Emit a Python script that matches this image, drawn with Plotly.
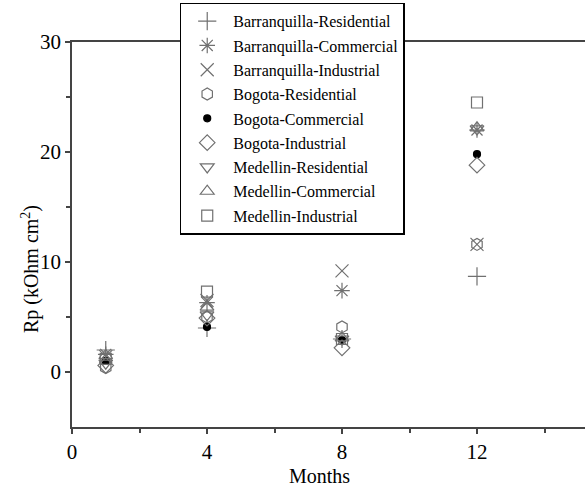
import plotly.graph_objects as go

months = [1, 4, 8, 12]

series_names = [
    "Barranquilla-Residential",
    "Barranquilla-Commercial",
    "Barranquilla-Industrial",
    "Bogota-Residential",
    "Bogota-Commercial",
    "Bogota-Industrial",
    "Medellin-Residential",
    "Medellin-Commercial",
    "Medellin-Industrial",
]

# Polarization resistance Rp (kOhm cm^2) per month
barranquilla_residential = [2.0, 4.0, 3.0, 8.7]
barranquilla_commercial = [1.6, 6.3, 7.4, 22.0]
barranquilla_industrial = [1.4, 6.5, 9.2, 11.6]
bogota_residential = [0.4, 5.0, 4.1, 11.6]
bogota_commercial = [1.0, 4.1, 2.9, 19.8]
bogota_industrial = [0.6, 4.9, 2.2, 18.8]
medellin_residential = [0.8, 5.2, 3.0, 22.1]
medellin_commercial = [1.5, 5.9, 3.1, 22.2]
medellin_industrial = [1.2, 7.3, 3.0, 24.5]

series_values = [
    barranquilla_residential,
    barranquilla_commercial,
    barranquilla_industrial,
    bogota_residential,
    bogota_commercial,
    bogota_industrial,
    medellin_residential,
    medellin_commercial,
    medellin_industrial,
]

symbols = [
    "cross-thin-open",
    "asterisk-open",
    "x-thin-open",
    "hexagon-open",
    "circle",
    "diamond-open",
    "triangle-down-open",
    "triangle-up-open",
    "square-open",
]
sizes = [13, 13, 13, 12, 7, 12, 12, 12, 11]
gray = "#707070"

fig = go.Figure()
for i, (name, vals, sym, sz) in enumerate(zip(series_names, series_values, symbols, sizes)):
    col = "black" if sym == "circle" else gray
    fig.add_trace(go.Scatter(
        x=months, y=vals, mode="markers", name=name,
        legendgroup=f"g{i}",
        marker=dict(symbol=sym, size=sz, color=col,
                    line=dict(color=col, width=1.2)),
    ))

tick_font = dict(family="Liberation Serif", size=21, color="black")
title_font = dict(family="Liberation Serif", size=20, color="black")
fig.update_layout(
    width=585, height=488,
    margin=dict(l=72, r=0, t=42, b=61),
    paper_bgcolor="white", plot_bgcolor="white",
    font=dict(family="Liberation Serif", color="black"),
    showlegend=True,
    legend=dict(
        x=0.21, y=1.102, xanchor="left", yanchor="top",
        bgcolor="white", bordercolor="black", borderwidth=1.5,
        font=dict(family="Liberation Serif", size=16, color="black"),
        traceorder="grouped", tracegroupgap=0.5,
        itemwidth=42, maxheight=460,
    ),
    xaxis=dict(
        range=[0, 15.2], tickvals=[0, 4, 8, 12], ticks="outside",
        ticklen=5, tickwidth=1.5, tickcolor="#444",
        minor=dict(tickvals=[2, 6, 10, 14], ticks="outside", ticklen=4, tickwidth=1.5, tickcolor="#444"),
        showline=True, linecolor="#444", linewidth=1.5, mirror=True,
        showgrid=False, zeroline=False, tickfont=tick_font,
    ),
    yaxis=dict(
        range=[-5, 30], tickvals=[0, 10, 20, 30], ticks="outside",
        ticklen=5, tickwidth=1.5, tickcolor="#444",
        minor=dict(tickvals=[5, 15, 25], ticks="outside", ticklen=4, tickwidth=1.5, tickcolor="#444"),
        showline=True, linecolor="#444", linewidth=1.5, mirror=False,
        showgrid=False, zeroline=False, tickfont=tick_font,
    ),
    annotations=[
        dict(text="Months", xref="paper", yref="paper", x=0.483, y=-0.127,
             xanchor="center", yanchor="middle", showarrow=False, font=title_font),
        dict(text="Rp (kOhm cm<sup>2</sup>)", xref="paper", yref="paper", x=-0.082, y=0.41,
             xanchor="center", yanchor="middle", textangle=-90, showarrow=False, font=title_font),
    ],
)

fig.write_html("out.html")
